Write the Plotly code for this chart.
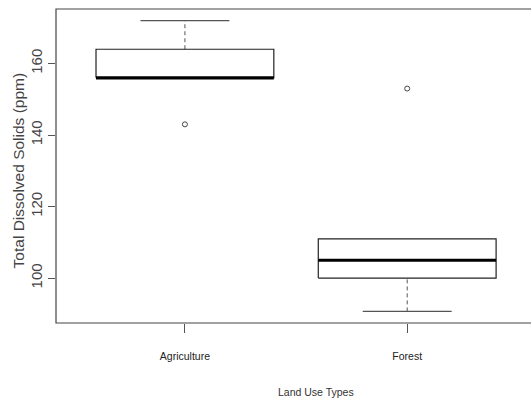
import plotly.graph_objects as go

# ---- data ----
categories = ["Agriculture", "Forest"]
positions = [1, 2]
whisker_low = [156, 90.7]
q1 = [156, 100]
median = [156, 105]
q3 = [164, 111]
whisker_high = [172, 111]
outliers = [[143], [153]]
y_ticks = [100, 120, 140, 160]
x_title = "Land Use Types"
y_title = "Total Dissolved Solids (ppm)"

BOX_HALF = 0.4
CAP_HALF = 0.2
LINE = "#222222"
WHISK = "#555555"

fig = go.Figure()

for p, lo, a, m, b, hi, outs in zip(positions, whisker_low, q1, median, q3, whisker_high, outliers):
    # whiskers (dashed)
    if hi > b:
        fig.add_trace(go.Scatter(x=[p, p], y=[b, hi], mode="lines",
                                 line=dict(color=WHISK, width=1, dash="4px,3px"), hoverinfo="skip"))
        fig.add_trace(go.Scatter(x=[p - CAP_HALF, p + CAP_HALF], y=[hi, hi], mode="lines",
                                 line=dict(color=WHISK, width=1.2), hoverinfo="skip"))
    if lo < a:
        fig.add_trace(go.Scatter(x=[p, p], y=[lo, a], mode="lines",
                                 line=dict(color=WHISK, width=1, dash="4px,3px"), hoverinfo="skip"))
        fig.add_trace(go.Scatter(x=[p - CAP_HALF, p + CAP_HALF], y=[lo, lo], mode="lines",
                                 line=dict(color=WHISK, width=1.2), hoverinfo="skip"))
    # box
    fig.add_trace(go.Scatter(
        x=[p - BOX_HALF, p + BOX_HALF, p + BOX_HALF, p - BOX_HALF, p - BOX_HALF],
        y=[a, a, b, b, a], mode="lines",
        line=dict(color=LINE, width=1.2), hoverinfo="skip"))
    # median
    fig.add_trace(go.Scatter(x=[p - BOX_HALF, p + BOX_HALF], y=[m, m], mode="lines",
                             line=dict(color="#000000", width=3.2), hoverinfo="skip"))
    # outliers
    fig.add_trace(go.Scatter(x=[p] * len(outs), y=outs, mode="markers",
                             marker=dict(symbol="circle-open", size=5, color="#444444",
                                         line=dict(width=1)),
                             hoverinfo="skip"))

fig.update_layout(
    width=531, height=400,
    margin=dict(l=56, r=0, t=9, b=77),
    plot_bgcolor="white", paper_bgcolor="white",
    showlegend=False,
    font=dict(family="Liberation Sans, Arial, sans-serif", color="#222222"),
    xaxis=dict(
        range=[0.42, 2.557], showgrid=False, zeroline=False, showline=False,
        tickmode="array", tickvals=positions, ticktext=categories,
        ticks="outside", ticklen=9, tickcolor="#555555", tickwidth=1,
        tickfont=dict(family="Liberation Sans, Arial, sans-serif", size=10.5, color="#222222"),
        ticklabelstandoff=14,
    ),
    yaxis=dict(
        range=[87.45, 175.25], showgrid=False, zeroline=False, showline=False,
        tickmode="array", tickvals=y_ticks, ticktext=[str(v) for v in y_ticks],
        ticks="outside", ticklen=7, tickcolor="#555555", tickwidth=1,
        tickangle=-90,
        tickfont=dict(family="Liberation Sans, Arial, sans-serif", size=15, color="#444444"),
        ticklabelstandoff=0,
    ),
    shapes=[dict(type="rect", xref="paper", yref="paper", x0=0, x1=1.05, y0=0, y1=1,
                 line=dict(color="#444444", width=1.2), fillcolor="rgba(0,0,0,0)", layer="above")],
    annotations=[
        dict(text=x_title, xref="paper", yref="paper", x=(316 - 56) / 475, y=-0.219,
             xanchor="center", yanchor="middle", showarrow=False,
             font=dict(family="Liberation Sans, Arial, sans-serif", size=10.5, color="#333333")),
        dict(text=y_title, xref="paper", yref="paper", x=(18 - 56) / 475, y=0.486,
             xanchor="center", yanchor="middle", showarrow=False, textangle=-90,
             font=dict(family="Liberation Sans, Arial, sans-serif", size=15.5, color="#444444")),
    ],
)

fig.write_html("out.html")
